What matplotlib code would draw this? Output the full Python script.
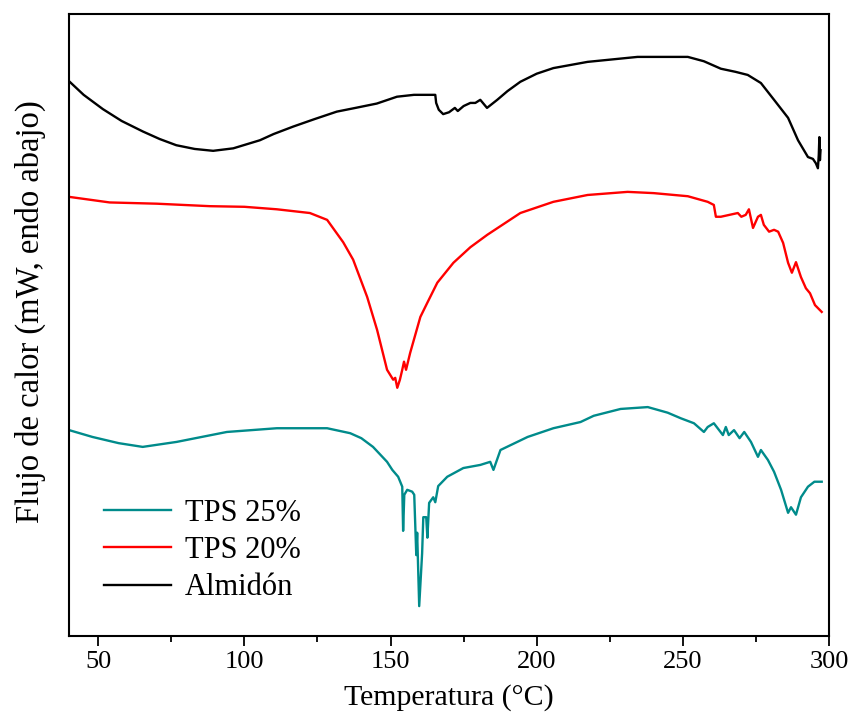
import matplotlib
matplotlib.use("Agg")
import matplotlib.pyplot as plt
from matplotlib.ticker import MultipleLocator

plt.rcParams['font.family'] = ['Liberation Serif', 'DejaVu Serif']

# DSC curves, heat flow in arbitrary units (endo down)

temp_almidon = [40, 45, 51.6, 58, 65.3, 71, 76.7, 83, 89.3, 96.2, 105.3, 110, 116.7, 124,
                131.6, 138, 145.3, 152.2, 158, 165.3, 165.6, 166.5, 168, 170, 172, 173,
                175, 177.3, 179, 180.7, 183, 186.5, 190, 194.4, 200, 205.7, 217.4, 234.5,
                251.7, 257.2, 263, 268, 272.2, 276.7, 281.2, 286, 289.4, 292.8, 294.5,
                295.5, 296.2, 296.5, 296.7, 296.9, 297.1]
flujo_almidon = [89.2, 87.0, 84.7, 82.8, 81.1, 79.9, 78.9, 78.3, 78.0, 78.4, 79.7, 80.7,
                 81.9, 83.1, 84.3, 84.9, 85.6, 86.7, 87.0, 87.0, 85.7, 84.6, 83.9, 84.2,
                 84.9, 84.4, 85.2, 85.7, 85.7, 86.2, 84.9, 86.2, 87.6, 89.1, 90.4, 91.3,
                 92.3, 93.1, 93.1, 92.4, 91.2, 90.7, 90.2, 88.9, 86.2, 83.3, 79.7, 77.0,
                 76.7, 76.0, 75.2, 77.3, 80.2, 76.5, 78.1]

temp_tps20 = [40, 53.9, 70, 88.2, 100, 111.1, 122.4, 128.3, 133.8, 137.2, 142, 145.4,
              148.8, 150.9, 151.6, 152.3, 153.2, 154, 154.6, 155.3, 156.7, 160.2, 162.5,
              166, 171.5, 177.3, 183.1, 194.4, 205.7, 217.4, 231.1, 240, 251.7, 258.5,
              260.6, 261.3, 263, 268.8, 270, 271.5, 272.6, 274, 275.7, 276.7, 277.7,
              279.5, 281.2, 282.6, 284.3, 286, 287.3, 288.7, 290.4, 292.1, 293.5, 295.2,
              297.5]
flujo_tps20 = [70.6, 69.7, 69.5, 69.1, 69.0, 68.6, 68.0, 66.9, 63.3, 60.5, 54.5, 49.2,
               42.8, 41.2, 41.5, 39.9, 41.2, 42.8, 44.1, 42.8, 45.5, 51.3, 53.5, 56.8,
               60.0, 62.5, 64.5, 68.0, 69.8, 70.9, 71.4, 71.2, 70.7, 69.8, 69.3, 67.4,
               67.4, 68.0, 67.4, 67.7, 68.6, 65.6, 67.4, 67.7, 66.1, 65.0, 65.3, 65.0,
               63.2, 60.0, 58.4, 60.1, 57.7, 55.9, 55.1, 53.2, 52.1]

temp_tps25 = [40, 48, 57, 65.2, 76.8, 94, 111.1, 128.3, 136.2, 140, 144.0, 148.8, 150.6,
              152.6, 154.0, 154.3, 154.7, 155.7, 157.4, 158.1, 158.8, 159.1, 159.8,
              160.8, 161.2, 162.2, 162.6, 163.2, 164.6, 165.3, 166.3, 169.4, 174.9,
              180.7, 184.1, 185.2, 187.6, 196.9, 205.7, 215, 219.5, 228.7, 238, 244.8,
              249.3, 253.8, 257.2, 258.5, 260.6, 263.7, 264.7, 265.7, 267.5, 269.4, 271,
              273.3, 275.7, 276.7, 279.1, 281.2, 283.6, 286, 287, 288.7, 290.4, 292.8,
              295, 297.5]
flujo_tps25 = [33.1, 32.0, 31.0, 30.4, 31.2, 32.8, 33.4, 33.4, 32.6, 31.8, 30.4, 28.0,
               26.7, 25.6, 24.0, 16.9, 22.7, 23.5, 23.2, 22.7, 13.0, 16.6, 4.8, 13.3,
               19.1, 19.1, 15.8, 21.4, 22.3, 21.5, 24.1, 25.6, 27.0, 27.5, 28.0, 26.7,
               29.9, 32.0, 33.4, 34.4, 35.4, 36.5, 36.8, 35.9, 35.0, 34.2, 32.8, 33.6,
               34.2, 32.3, 33.6, 32.3, 33.1, 31.8, 32.8, 31.2, 28.8, 29.9, 28.3, 26.4,
               23.5, 19.8, 20.7, 19.5, 22.3, 24.0, 24.8, 24.8]

fig = plt.figure(figsize=(8.48, 7.17), dpi=100)
ax = fig.add_axes([0.0814, 0.113, 0.8962, 0.8675])

ax.plot(temp_tps25, flujo_tps25, color='#008B8B', lw=1.7, label='TPS 25%')
ax.plot(temp_tps20, flujo_tps20, color='#FF0000', lw=1.7, label='TPS 20%')
ax.plot(temp_almidon, flujo_almidon, color='black', lw=1.7, label='Almidón')

ax.set_xlim(40, 300)
ax.set_ylim(0, 100)
ax.xaxis.set_major_locator(MultipleLocator(50))
ax.xaxis.set_minor_locator(MultipleLocator(25))
ax.set_yticks([])
ax.tick_params(axis='x', which='major', direction='out', length=7, width=1.3,
               labelsize=19, pad=4)
ax.tick_params(axis='x', which='minor', direction='out', length=4, width=1.3)
for s in ax.spines.values():
    s.set_linewidth(1.5)

ax.set_xlabel('Temperatura (°C)', fontsize=21.5, labelpad=8)
ax.set_ylabel('Flujo de calor (mW, endo abajo)', fontsize=23.5)
ax.yaxis.set_label_coords(-0.03, 0.522)

ax.legend(loc='lower left', frameon=False, fontsize=22, handlelength=2.2,
          handletextpad=0.45, labelspacing=0.27, bbox_to_anchor=(0.01, 0.01))

fig.savefig('out.png', dpi=100)
